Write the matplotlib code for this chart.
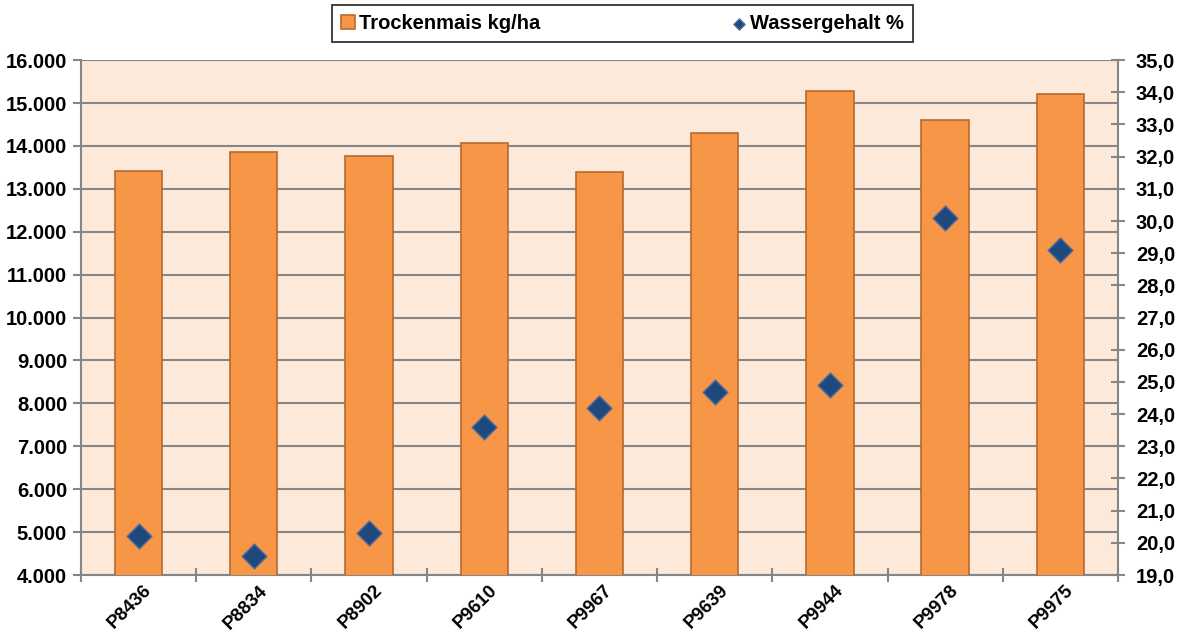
import numpy as np
import matplotlib.pyplot as plt
from matplotlib.ticker import FuncFormatter, MultipleLocator

sorten = ["P8436", "P8834", "P8902", "P9610", "P9967", "P9639", "P9944", "P9978", "P9975"]
trockenmais = [13420, 13850, 13760, 14060, 13390, 14310, 15280, 14600, 15210]
wassergehalt = [20.2, 19.6, 20.3, 23.6, 24.2, 24.7, 24.9, 30.1, 29.1]

plt.rcParams['font.family'] = ['Liberation Sans', 'DejaVu Sans']
plt.rcParams['font.weight'] = 'bold'
fs = 14.5

fig = plt.figure(figsize=(11.81, 6.33), dpi=100)
ax = fig.add_axes([0.0686, 0.0916, 0.878, 0.8134])
ax.set_facecolor('#FDE9D9')
x = np.arange(len(sorten))
grau = '#868686'

bars = ax.bar(x, trockenmais, width=0.41, color='#F79646', edgecolor='#B66A2F',
              linewidth=1.2, zorder=3, label='Trockenmais kg/ha')
ax.set_ylim(4000, 16000)
ax.set_xlim(-0.5, len(sorten) - 0.5)
ax.yaxis.set_major_locator(MultipleLocator(1000))
ax.yaxis.set_major_formatter(FuncFormatter(lambda v, p: f"{int(v):,}".replace(",", ".")))
ax.grid(axis='y', color=grau, linewidth=1.5, zorder=1)
ax.set_xticks(x + 0.04)
ax.set_xticklabels(sorten, rotation=45, ha='right', rotation_mode='anchor', fontsize=13.5)
ax.set_xticks(np.arange(-0.5, len(sorten)), minor=True)
ax.tick_params(axis='x', which='major', length=0, pad=5)
ax.tick_params(axis='x', which='minor', length=10, direction='inout', color=grau, width=1.5)
ax.tick_params(axis='y', labelsize=fs, length=6, color=grau, width=1.5, pad=4)
for s in ['top', 'right']:
    ax.spines[s].set_visible(False)
for s in ['left', 'bottom']:
    ax.spines[s].set_color(grau)
    ax.spines[s].set_linewidth(1.5)

ax2 = ax.twinx()
pts = ax2.scatter(x, wassergehalt, marker='D', s=160, color='#1F497D', edgecolor='#4F6E99',
                  linewidth=1, zorder=4, label='Wassergehalt %')
ax2.set_ylim(19, 35)
ax2.yaxis.set_major_locator(MultipleLocator(1))
ax2.yaxis.set_major_formatter(FuncFormatter(lambda v, p: f"{v:.1f}".replace(".", ",")))
ax2.tick_params(axis='y', labelsize=fs, length=10, direction='inout', color=grau, width=1.5, pad=8)
for s in ['top', 'left', 'bottom']:
    ax2.spines[s].set_visible(False)
ax2.spines['right'].set_color(grau)
ax2.spines['right'].set_linewidth(1.5)

leg = fig.legend(handles=[bars, pts], loc='center', bbox_to_anchor=(0.527, 0.963),
                 ncol=2, fontsize=fs, frameon=True, fancybox=False, edgecolor='black',
                 handlelength=0.7, handletextpad=0.2, columnspacing=9.5, borderpad=0.45,
                 borderaxespad=0, markerscale=0.45)
leg.get_frame().set_linewidth(1.3)

fig.savefig('out.png', dpi=100)
